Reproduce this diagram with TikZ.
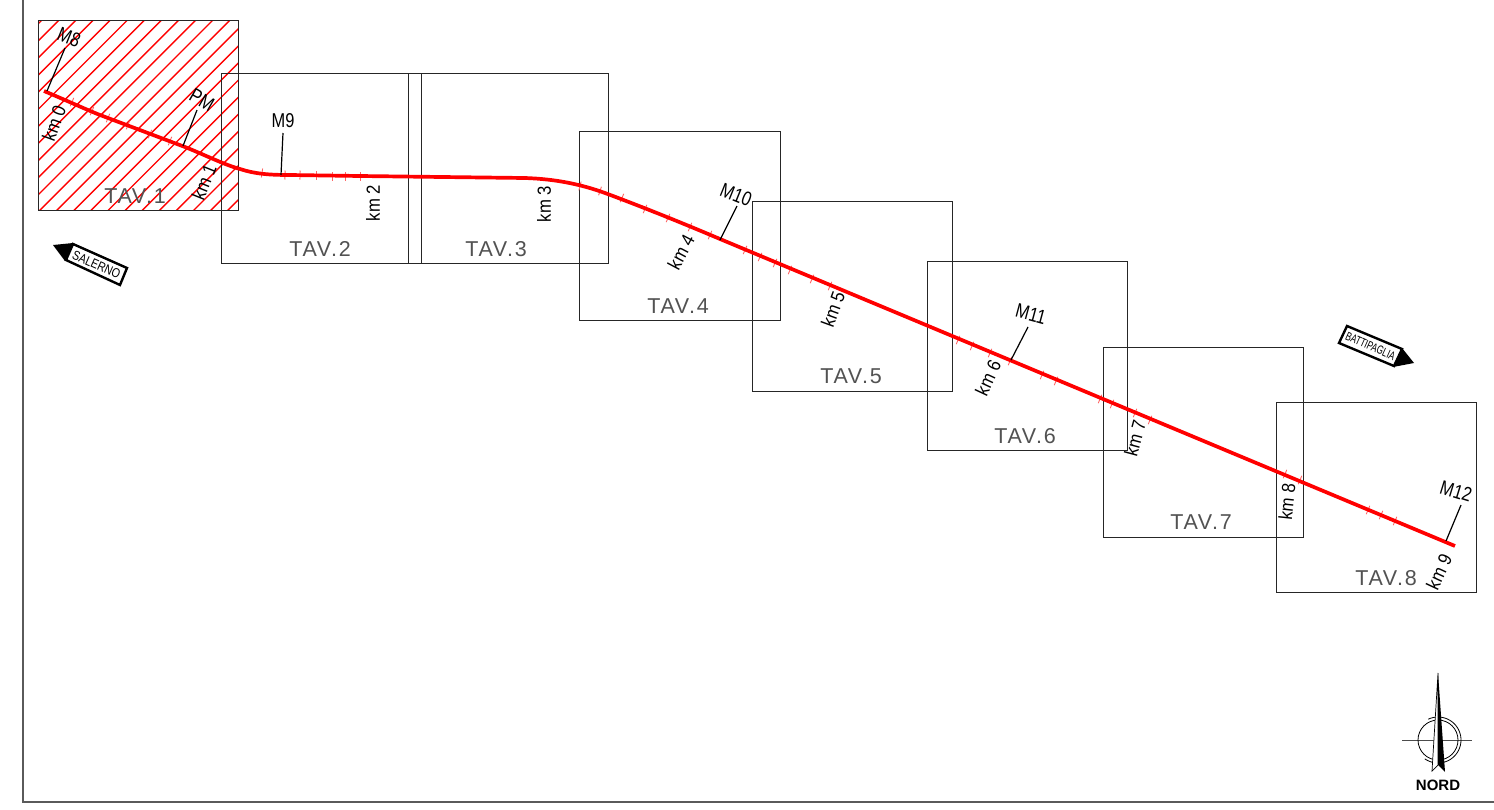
\documentclass[tikz,border=0pt]{standalone}
\usepackage{fontspec}
\setmainfont{Liberation Sans}
\newfontfamily\tavfont[LetterSpace=8]{Liberation Sans}
\definecolor{routered}{RGB}{255,0,0}
\definecolor{framegray}{RGB}{90,90,90}
\tikzset{
  sheet/.style={draw=black!85,line width=0.9pt,fill=none},
  route/.style={draw=routered,line width=3.7pt,line join=round},
  tick/.style={draw=routered!60,line width=0.9pt},
  hatch/.style={draw=routered,line width=1.4pt},
  leader/.style={draw=black,line width=1.2pt},
  tav/.style={font=\tavfont\fontsize{21.5}{21.5}\selectfont,text=black!68,inner sep=0pt},
  km/.style={font=\fontsize{19}{19}\selectfont,inner sep=0pt,xscale=.88},
  mark label/.style={font=\fontsize{20}{20}\selectfont,inner sep=0pt,xscale=.82},
  sign/.style={draw=black,line width=2.4pt,fill=white,line join=miter},
  signtext/.style={inner sep=0pt}
}
\begin{document}
\begin{tikzpicture}[x=1pt,y=-1pt]
\useasboundingbox (0,0) rectangle (1494,809);
\fill[white] (0,0) rectangle (1494,809);
% outer frame
\draw[framegray,line width=1.2pt] (23,0) -- (23,802) -- (1494,802);
% hatch of sheet 1
\begin{scope}
\clip (38,20) rectangle (238,210);
\foreach \c in {62,79.1,...,460} \draw[hatch] (\c-300,300) -- (\c,0);
\end{scope}
% sheets
\draw[sheet] (38,20) rectangle (238,210);
\draw[sheet] (221,73) rectangle (421,263);
\draw[sheet] (408,73) rectangle (608,263);
\draw[sheet] (579,131) rectangle (780,320);
\draw[sheet] (752,201) rectangle (952,391);
\draw[sheet] (927,261) rectangle (1127,450);
\draw[sheet] (1103,347) rectangle (1303,537);
\draw[sheet] (1276,402) rectangle (1476,592);
% ticks
\foreach \x/\y/\a in {
 72/102/23,92/111/23,108/118/22,128/125/22,150/134/22,170/141/22,
 262/173/8,285/175/2,300/175/1,316/175/0,332/176/0,345/176/0,360/176/0,
 580/186/14,600/191/18,622/198/22,645/209/24,668/218/24,690/227/23,710/235/23,
 745/250/24,760/257/24,775/263/24,790/270/23,812/279/23,830/286/23,
 958/340/23,972/346/23,990/353/23,1010/361/23,1042/375/23,1056/381/23,
 1100/399/23,1112/404/23,1135/413/23,1150/420/23,
 1285/474/23,1300/480/23,1368/510/23,1381/515/23,1395/521/23}
  \draw[tick] ([shift={(\x,\y)}]90+\a:4.5) -- ([shift={(\x,\y)}]270+\a:4.5);
% route
\draw[route] (44,91) .. controls (70,102) and (85,109) .. (100,115)
  -- (185,147) .. controls (205,155) and (225,165) .. (240,169)
  .. controls (255,174) and (270,175) .. (290,175)
  -- (360,176) -- (525,178)
  .. controls (555,179) and (580,184) .. (605,193)
  .. controls (640,206) and (680,222) .. (720,239)
  -- (1455,546);
% leaders
\coordinate (m8a) at (47,91);  \coordinate (m8b) at (65,48);
\coordinate (pma) at (183,146); \coordinate (pmb) at (197,110);
\coordinate (m9a) at (281,175); \coordinate (m9b) at (283,133);
\coordinate (m10a) at (720,240); \coordinate (m10b) at (737,206);
\coordinate (m11a) at (1011,360); \coordinate (m11b) at (1028,327);
\coordinate (m12a) at (1446,541); \coordinate (m12b) at (1461,505);
\draw[leader] (m8a) -- (m8b);
\draw[leader] (pma) -- (pmb);
\draw[leader] (m9a) -- (m9b);
\draw[leader] (m10a) -- (m10b);
\draw[leader] (m11a) -- (m11b);
\draw[leader] (m12a) -- (m12b);
% mark labels
\node[rotate=-22,mark label] (lm8) at (69,37) {M8};
\node[rotate=-30,mark label] (lpm) at (202,100) {PM};
\node[mark label] (lm9) at (283,121) {M9};
\node[rotate=-22,mark label] (lm10) at (736,195) {M10};
\node[rotate=-15,mark label] (lm11) at (1031,314) {M11};
\node[rotate=-17,mark label] (lm12) at (1456,491) {M12};
% km labels
\node[rotate=70,km] (k0) at (54,123) {km 0};
\node[rotate=68,km] (k1) at (204,182) {km 1};
\node[rotate=90,km] (k2) at (373,203) {km 2};
\node[rotate=90,km] (k3) at (544,204) {km 3};
\node[rotate=62,km] (k4) at (681,252) {km 4};
\node[rotate=70,km] (k5) at (833,309) {km 5};
\node[rotate=65,km] (k6) at (988,378) {km 6};
\node[rotate=75,km] (k7) at (1135,438) {km 7};
\node[rotate=84,km] (k8) at (1287,502) {km 8};
\node[rotate=65,km] (k9) at (1439,572) {km 9};
% sheet labels
\node[tav] (t1) at (135,196) {TAV.1};
\node[tav] (t2) at (320,249) {TAV.2};
\node[tav] (t3) at (496,249) {TAV.3};
\node[tav] (t4) at (678,306) {TAV.4};
\node[tav] (t5) at (851,376) {TAV.5};
\node[tav] (t6) at (1025,436) {TAV.6};
\node[tav] (t7) at (1201,522) {TAV.7};
\node[tav] (t8) at (1386,578) {TAV.8};
% direction signs
\draw[sign] (73,244) -- (127,268) -- (120,285) -- (66,260) -- cycle;
\fill[black] (53,245) -- (73,243) -- (65,261) -- cycle;
\node[rotate=-24,signtext,xscale=.82,font=\fontsize{13}{13}\selectfont] (ssal) at (96.5,264.5) {SALERNO};
\draw[sign] (1347,326) -- (1402,349) -- (1394,366) -- (1339,343) -- cycle;
\fill[black] (1402,348) -- (1414,363) -- (1393,367) -- cycle;
\node[rotate=-24,signtext,xscale=.7,font=\fontsize{12}{12}\selectfont] (sbat) at (1370.5,346) {BATTIPAGLIA};
% north
\draw[black!70,line width=1pt] (1402,740) -- (1472,740);
\draw[black,line width=0.8pt] (1438,740) circle (20);
\draw[black,line width=0.8pt] plot[domain=-115:125,samples=40,smooth] ({1438+23*cos(\x)},{740+23*sin(\x)});
\draw[black,line width=0.7pt,fill=white] (1438,673) -- (1432,771) -- (1438,765) -- cycle;
\fill[black] (1438,673) -- (1438,765) -- (1445,772) -- cycle;
\node[font=\bfseries\fontsize{15}{15}\selectfont,inner sep=0pt] (nord) at (1438,785) {NORD};
\end{tikzpicture}
\end{document}
